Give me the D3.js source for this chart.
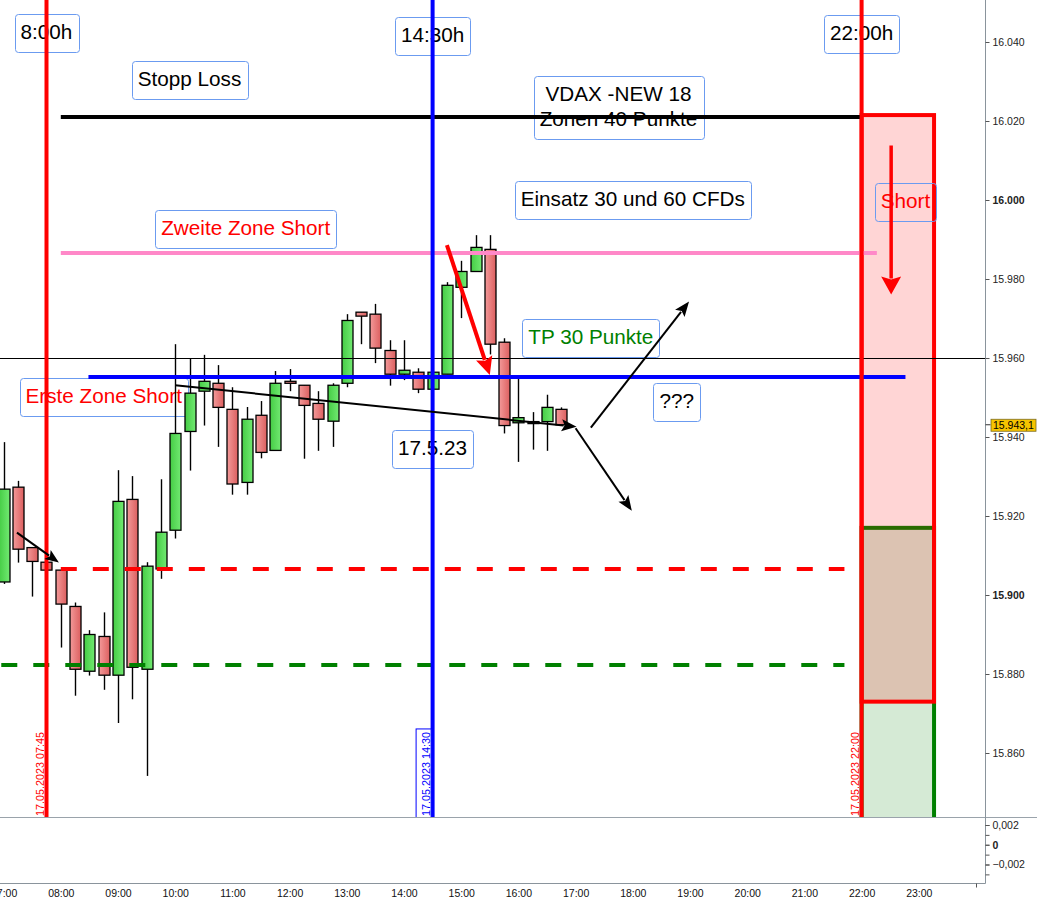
<!DOCTYPE html>
<html><head><meta charset="utf-8">
<script src="https://cdn.jsdelivr.net/npm/d3@7"></script>
<style>html,body{margin:0;padding:0;background:#fff;} svg{display:block;}</style>
</head><body>
<svg id="chart" width="1037" height="899"></svg>
<script>
// ---------------- DATA ----------------
const candleTimes = ["07:00","07:15","07:30","07:45","08:00","08:15","08:30","08:45","09:00","09:15","09:30","09:45","10:00","10:15","10:30","10:45","11:00","11:15","11:30","11:45","12:00","12:15","12:30","12:45","13:00","13:15","13:30","13:45","14:00","14:15","14:30","14:45","15:00","15:15","15:30","15:45","16:00","16:15","16:30","16:45"];
const opens  = [15903.3,15927.3,15912.0,15908.3,15906.3,15897.1,15880.7,15889.5,15879.7,15924.2,15881.2,15906.6,15916.4,15941.4,15951.6,15953.6,15947.0,15928.5,15945.5,15936.6,15954.1,15953.1,15948.5,15944.0,15953.6,15971.6,15971.1,15961.9,15955.9,15956.4,15952.1,15955.9,15977.9,15981.9,15987.5,15964.0,15943.6,15943.9,15943.9,15947.0];
const highs  = [15938.7,15928.9,15912.0,15908.3,15906.3,15898.1,15891.1,15895.6,15931.6,15930.1,15908.3,15929.3,15963.5,15959.8,15960.8,15958.2,15952.6,15947.6,15949.1,15956.7,15957.2,15953.1,15951.6,15953.6,15971.1,15971.6,15973.7,15964.5,15964.5,15957.4,15956.4,15979.2,15984.6,15991.1,15991.1,15965.0,15954.8,15946.3,15950.7,15947.5];
const lows   = [15902.8,15908.2,15899.6,15906.3,15886.7,15874.5,15879.6,15876.0,15867.6,15873.6,15854.2,15904.1,15914.3,15931.5,15942.9,15937.5,15925.4,15925.4,15934.6,15936.6,15951.6,15934.5,15936.5,15937.5,15952.6,15963.5,15958.7,15953.0,15954.4,15951.1,15952.1,15955.9,15970.1,15981.9,15960.9,15940.9,15933.7,15936.8,15936.5,15942.9];
const closes = [15926.8,15911.6,15908.5,15906.3,15897.7,15881.2,15890.0,15879.7,15923.7,15881.7,15907.3,15915.9,15940.9,15951.1,15954.1,15947.5,15928.1,15944.5,15936.1,15953.6,15953.6,15948.0,15944.5,15953.1,15969.5,15970.6,15962.5,15955.9,15956.9,15952.1,15956.4,15978.4,15981.9,15988.0,15963.5,15942.9,15944.9,15943.5,15947.5,15943.1];

const priceTicks = [15860,15880,15900,15920,15940,15960,15980,16000,16020,16040];
const hourTicks = ["07:00","08:00","09:00","10:00","11:00","12:00","13:00","14:00","15:00","16:00","17:00","18:00","19:00","20:00","21:00","22:00","23:00"];
const oscTicks = [0.002, 0, -0.002];
const oscMinorTicks = [0.002, 0.001, 0, -0.001, -0.002, -0.003];
const lastPrice = 15943.1;

// horizontal levels
const levelValues = [16021.0, 15986.6, 15955.2, 15960.0, 15906.6, 15882.3];
const levelStarts = ["08:00", "08:00", "08:29", "05:00", "08:00", "06:24"];
const levelEnds   = ["22:00", "22:16", "22:46", "24:30", "21:42", "21:42"];

// vertical time markers
const markerTimes = ["07:45", "14:30", "22:00"];
const markerLabels = ["17.05.2023 07:45", "17.05.2023 14:30", "17.05.2023 22:00"];

// trade zones (right)
const shortZone = {from: "22:00", to: "23:16", top: 16021.5, bottom: 15873.0};
const tpZone    = {from: "22:00", to: "23:16", top: 15917.0, bottom: 15830.0};

// text boxes: center time, top price
const noteTexts  = ["8:00h", "14:30h", "22:00h", "Stopp Loss", "VDAX -NEW 18\nZonen 40 Punkte", "Einsatz 30 und 60 CFDs", "Zweite Zone Short", "TP 30 Punkte", "Erste Zone Short", "???", "17.5.23", "Short"];
const noteTimes  = ["07:45", "14:30", "22:00", "10:15", "17:45", "18:00", "11:14", "17:16", "08:45", "18:46", "14:30", "22:46"];
const noteValues = [16047.0, 16046.3, 16046.8, 16035.1, 16031.5, 16004.9, 15997.4, 15969.8, 15954.9, 15953.6, 15941.8, 16004.3];

// arrows: start time/value, end time/value
const arrowFromT = ["10:00", "17:16", "17:00", "14:45", "07:14", "22:31"];
const arrowFromV = [15953.1, 15942.4, 15942.2, 15988.6, 15915.8, 16013.8];
const arrowToT   = ["17:01", "18:59", "17:59", "15:30", "07:58", "22:31"];
const arrowToV   = [15942.6, 15974.3, 15921.3, 15955.7, 15908.2, 15976.1];

// ---------------- STYLE / LAYOUT ----------------
const FONT = "'Liberation Sans', Arial, Helvetica, sans-serif";
const plotRight = 985.5, plotBottom = 817, oscBottom = 883.5;
const noteColors = ["#000","#000","#000","#000","#000","#000","#ff0000","#008000","#ff0000","#000","#000","#ff0000"];
const levelColors = ["#000000", "#ff88c8", "#0000ff", "#000000", "#ff0000", "#008000"];
const levelWidths = [4, 4, 4, 1, 4, 4];
const levelDash   = [null, null, null, null, "16,16", "16,16"];
const markerColors = ["#ff0000", "#0000ff", "#ff0000"];
const arrowColors = ["#000", "#000", "#000", "#ff0000", "#000", "#ff0000"];
const arrowWidths = [2, 2, 2, 4, 2, 3.5];
const arrowHeadL  = [15, 15, 15, 18, 14, 18];
const arrowHeadW  = [12, 12, 12, 17, 11, 20];

const T = s => { const [h, m] = s.split(":").map(Number); return new Date(2023, 4, 17, h, m); };

const svg = d3.select("#chart");
const x = d3.scaleTime().domain([T("08:00"), T("23:00")]).range([60.8, 918.8]);
const y = d3.scaleLinear().domain([15860, 16040]).range([753, 42]);
const yOsc = d3.scaleLinear().domain([-0.002, 0.002]).range([864.5, 825]);
const de = d3.formatLocale({decimal: ",", thousands: ".", grouping: [3], currency: ["", "€"]});

const defs = svg.append("defs");
defs.append("clipPath").attr("id", "plotclip").append("rect")
  .attr("x", 0).attr("y", 0).attr("width", plotRight).attr("height", plotBottom);
const gradR = defs.append("linearGradient").attr("id", "gRed").attr("x1", 0).attr("x2", 1).attr("y1", 0).attr("y2", 0);
gradR.append("stop").attr("offset", 0).attr("stop-color", "#f39a9a");
gradR.append("stop").attr("offset", 1).attr("stop-color", "#dc5f5f");
const gradG = defs.append("linearGradient").attr("id", "gGreen").attr("x1", 0).attr("x2", 1).attr("y1", 0).attr("y2", 0);
gradG.append("stop").attr("offset", 0).attr("stop-color", "#45cc45");
gradG.append("stop").attr("offset", 1).attr("stop-color", "#72ea72");

const plot = svg.append("g").attr("clip-path", "url(#plotclip)");

// zones
function zone(z, color) {
  plot.append("rect")
    .attr("x", x(T(z.from))).attr("y", y(z.top))
    .attr("width", x(T(z.to)) - x(T(z.from))).attr("height", y(z.bottom) - y(z.top))
    .attr("fill", color).attr("fill-opacity", 0.165)
    .attr("stroke", color).attr("stroke-width", 4);
}
zone(tpZone, "#008000");
zone(shortZone, "#ff0000");

// notes (boxes + text)
noteTexts.forEach((txt, i) => {
  const lines = txt.split("\n");
  const cx = x(T(noteTimes[i])), top = y(noteValues[i]);
  const g = plot.append("g");
  const rect = g.append("rect");
  let maxW = 0;
  lines.forEach((ln, j) => {
    const t = g.append("text").text(ln)
      .attr("x", cx).attr("y", top + 25 + j * 25)
      .attr("text-anchor", "middle")
      .attr("font-family", FONT).attr("font-size", 20.7)
      .attr("fill", noteColors[i]);
    maxW = Math.max(maxW, t.node().getComputedTextLength());
  });
  const w = maxW + 12, h = 38 + (lines.length - 1) * 24.5;
  rect.attr("x", Math.round(cx - w / 2) + 0.5).attr("y", Math.round(top) + 0.5)
    .attr("width", Math.round(w)).attr("height", Math.round(h))
    .attr("rx", 3).attr("fill", "none").attr("stroke", "#6b9bf0").attr("stroke-width", 1);
});

// candles
const candles = plot.append("g");
candleTimes.forEach((t, i) => {
  const cx = Math.round(x(T(t))) + 0.5;
  const up = closes[i] >= opens[i];
  candles.append("line")
    .attr("x1", cx).attr("x2", cx).attr("y1", y(highs[i])).attr("y2", y(lows[i]))
    .attr("stroke", "#000").attr("stroke-width", 1.4);
  const yt = y(Math.max(opens[i], closes[i])), yb = y(Math.min(opens[i], closes[i]));
  candles.append("rect")
    .attr("x", cx - 5.5).attr("y", yt).attr("width", 11).attr("height", Math.max(2, yb - yt))
    .attr("fill", up ? "url(#gGreen)" : "url(#gRed)")
    .attr("stroke", "#000").attr("stroke-width", 1.3);
});

// horizontal levels
levelValues.forEach((v, i) => {
  const yy = levelWidths[i] === 1 ? Math.round(y(v)) + 0.5 : y(v);
  const ln = plot.append("line")
    .attr("x1", x(T(levelStarts[i]))).attr("x2", x(T(levelEnds[i])))
    .attr("y1", yy).attr("y2", yy)
    .attr("stroke", levelColors[i]).attr("stroke-width", levelWidths[i]);
  if (levelDash[i]) ln.attr("stroke-dasharray", levelDash[i]);
});

// arrows
function arrow(i) {
  const x1 = x(T(arrowFromT[i])), y1 = y(arrowFromV[i]);
  const x2 = x(T(arrowToT[i])), y2 = y(arrowToV[i]);
  const dx = x2 - x1, dy = y2 - y1, len = Math.hypot(dx, dy);
  const ux = dx / len, uy = dy / len;
  const L = arrowHeadL[i], W = arrowHeadW[i];
  const bx = x2 - ux * L, by = y2 - uy * L;
  plot.append("line").attr("x1", x1).attr("y1", y1).attr("x2", bx + ux * 2).attr("y2", by + uy * 2)
    .attr("stroke", arrowColors[i]).attr("stroke-width", arrowWidths[i]);
  const px = -uy, py = ux;
  plot.append("path")
    .attr("d", `M${x2},${y2}L${bx + px * W / 2},${by + py * W / 2}L${bx + ux * 3},${by + uy * 3}L${bx - px * W / 2},${by - py * W / 2}Z`)
    .attr("fill", arrowColors[i]);
}

// vertical markers
markerTimes.forEach((t, i) => {
  const mx = x(T(t));
  plot.append("line").attr("x1", mx).attr("x2", mx).attr("y1", 0).attr("y2", plotBottom)
    .attr("stroke", markerColors[i]).attr("stroke-width", 4);
});

arrowFromT.forEach((_, i) => arrow(i));

// vertical marker labels
markerTimes.forEach((t, i) => {
  const mx = x(T(t));
  const g = plot.append("g").attr("transform", `translate(${mx - 3},${plotBottom - 1}) rotate(-90)`);
  const txt = g.append("text").text(markerLabels[i])
    .attr("x", 0).attr("y", 0)
    .attr("font-family", FONT).attr("font-size", 10.8).attr("fill", markerColors[i]);
  if (i === 1) {
    const w = txt.node().getComputedTextLength();
    g.insert("rect", "text").attr("x", -2).attr("y", -13.5).attr("width", w + 5).attr("height", 15)
      .attr("fill", "#fff").attr("stroke", "#0000ff").attr("stroke-width", 1);
  }
});

// ---------------- AXES ----------------
// frame lines
svg.append("line").attr("x1", 0).attr("x2", 1037).attr("y1", plotBottom + 0.5).attr("y2", plotBottom + 0.5).attr("stroke", "#9aa3ab");
svg.append("line").attr("x1", 0).attr("x2", plotRight).attr("y1", oscBottom).attr("y2", oscBottom).attr("stroke", "#8a949c");
svg.append("line").attr("x1", plotRight).attr("x2", plotRight).attr("y1", 0).attr("y2", oscBottom).attr("stroke", "#8a949c");

const fmtP = de.format(",.0f");
const yAxis = svg.append("g").attr("transform", `translate(${plotRight},0)`)
  .call(d3.axisRight(y).tickValues(priceTicks).tickSize(4).tickPadding(3).tickFormat(d => fmtP(d)));
yAxis.select(".domain").remove();
yAxis.selectAll(".tick line").attr("stroke", "#555");
yAxis.selectAll("text").attr("font-family", FONT).attr("font-size", 10.5).attr("fill", "#222")
  .attr("font-weight", d => (d % 100 === 0 ? "bold" : "normal"));

// last price tag
const lp = svg.append("g").attr("transform", `translate(${plotRight},${y(lastPrice)})`);
lp.append("line").attr("x1", 0).attr("x2", 5).attr("y1", 0).attr("y2", 0).attr("stroke", "#333");
lp.append("rect").attr("x", 5.5).attr("y", -5.5).attr("width", 45).attr("height", 12)
  .attr("fill", "#f6c400").attr("stroke", "#7a6a20").attr("stroke-width", 0.8);
lp.append("text").text(de.format(",.1f")(lastPrice)).attr("x", 7.5).attr("y", 4.5)
  .attr("font-family", FONT).attr("font-size", 10.5).attr("fill", "#000");

// oscillator axis
const fmtO = d => (d === 0 ? "0" : de.format(".3f")(d));
const oAxisMinor = svg.append("g").attr("transform", `translate(${plotRight},0)`)
  .call(d3.axisRight(yOsc).tickValues(oscMinorTicks).tickSize(4).tickFormat(""));
oAxisMinor.select(".domain").remove();
oAxisMinor.selectAll(".tick line").attr("stroke", "#555");
const oAxis = svg.append("g").attr("transform", `translate(${plotRight},0)`)
  .call(d3.axisRight(yOsc).tickValues(oscTicks).tickSize(4).tickPadding(3).tickFormat(fmtO));
oAxis.select(".domain").remove();
oAxis.selectAll(".tick line").attr("stroke", "#555");
oAxis.selectAll("text").attr("font-family", FONT).attr("font-size", 10.5).attr("fill", "#222")
  .attr("font-weight", d => (d === 0 ? "bold" : "normal"));

// time axis
const xAxis = svg.append("g").attr("transform", `translate(0,${oscBottom})`)
  .call(d3.axisBottom(x).tickValues(hourTicks.map(T)).tickSize(0).tickPadding(6).tickFormat(d3.timeFormat("%H:%M")));
xAxis.select(".domain").remove();
xAxis.selectAll("text").attr("font-family", FONT).attr("font-size", 10.5).attr("fill", "#111");
// day boundary tick
svg.append("line").attr("x1", Math.round(x(T("24:00"))) + 0.5).attr("x2", Math.round(x(T("24:00"))) + 0.5)
  .attr("y1", oscBottom).attr("y2", oscBottom + 4).attr("stroke", "#555");
</script>
</body></html>
